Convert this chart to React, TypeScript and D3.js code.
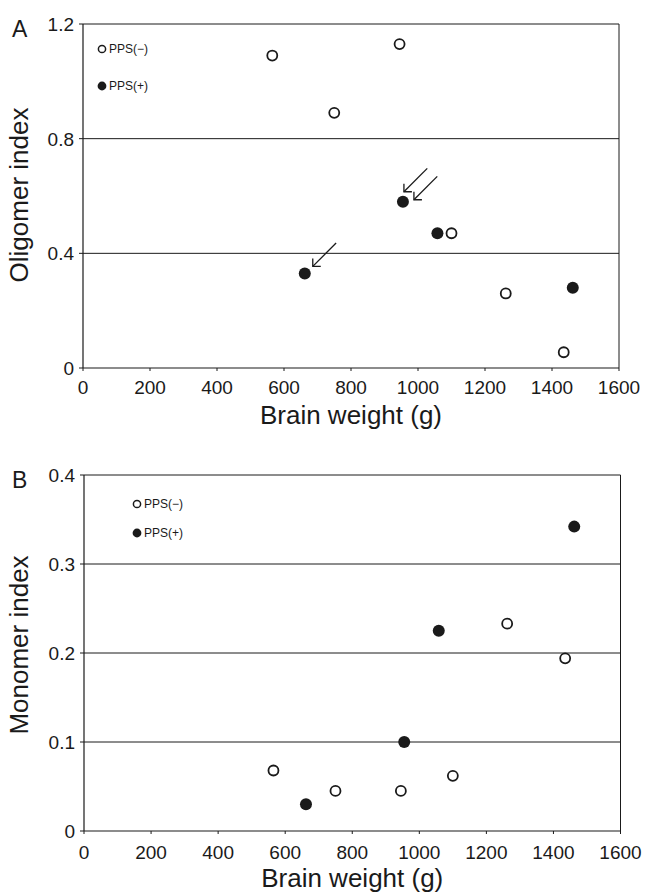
import React from "react";
import * as d3 from "d3";

// ---- data ----
const weightTicks = [0, 200, 400, 600, 800, 1000, 1200, 1400, 1600];
const oligomerTicks = [0, 0.4, 0.8, 1.2];
const monomerTicks = [0, 0.1, 0.2, 0.3, 0.4];

const weightsNeg = [565, 750, 945, 1100, 1262, 1435];
const oligomerNeg = [1.09, 0.89, 1.13, 0.47, 0.26, 0.055];
const monomerNeg = [0.068, 0.045, 0.045, 0.062, 0.233, 0.194];

const weightsPos = [662, 955, 1058, 1462];
const oligomerPos = [0.33, 0.58, 0.47, 0.28];
const monomerPos = [0.03, 0.1, 0.225, 0.342];

const legendLabels = ["PPS(\u2212)", "PPS(+)"];
// arrows in panel A point at these PPS(+) cases (index into weightsPos)
const arrowTargets = [1, 1, 0];

const FONT = "'Liberation Sans', Arial, sans-serif";
const INK = "#1a1a1a";

type PanelProps = {
  letter: string;
  yTitle: string;
  yTicks: number[];
  yMax: number;
  negY: number[];
  posY: number[];
  x0: number;
  x1: number;
  yTop: number;
  yBot: number;
  legendX: number;
  legendY: number[];
  arrows: boolean;
  tickOff: number;
  yTitleY: number;
  yFmt: (v: number) => string;
};

function Panel(p: PanelProps) {
  const x = d3.scaleLinear().domain([0, 1600]).range([p.x0, p.x1]);
  const y = d3.scaleLinear().domain([0, p.yMax]).range([p.yBot, p.yTop]);
  const arrowOffsets = [
    [1, -10],
    [11, -2],
    [8, -7],
  ];
  return (
    <g>
      {/* gridlines */}
      {p.yTicks.filter((t) => t > 0).map((t) => (
        <line key={"g" + t} x1={p.x0} x2={p.x1} y1={y(t)} y2={y(t)} stroke={INK} strokeWidth={1} />
      ))}
      {/* right border */}
      <line x1={p.x1} x2={p.x1} y1={p.yTop} y2={p.yBot} stroke={INK} strokeWidth={1} />
      {/* axes */}
      <line x1={p.x0} x2={p.x0} y1={p.yTop} y2={p.yBot} stroke={INK} strokeWidth={1.2} />
      <line x1={p.x0} x2={p.x1} y1={p.yBot} y2={p.yBot} stroke={INK} strokeWidth={1.2} />
      {/* y ticks */}
      {p.yTicks.map((t) => (
        <g key={"yt" + t}>
          <line x1={p.x0 - 4} x2={p.x0} y1={y(t)} y2={y(t)} stroke={INK} strokeWidth={1} />
          <text x={p.x0 - 9} y={y(t)} dy="0.36em" textAnchor="end" fontSize={19} fontFamily={FONT} fill={INK}>
            {p.yFmt(t)}
          </text>
        </g>
      ))}
      {/* x ticks */}
      {weightTicks.map((t) => (
        <g key={"xt" + t}>
          <line x1={x(t)} x2={x(t)} y1={p.yBot} y2={p.yBot + 3} stroke={INK} strokeWidth={1} />
          <text x={x(t)} y={p.yBot + p.tickOff} textAnchor="middle" fontSize={19} fontFamily={FONT} fill={INK}>
            {t}
          </text>
        </g>
      ))}
      {/* titles */}
      <text x={(p.x0 + p.x1) / 2} y={p.yBot + 56} textAnchor="middle" fontSize={26} fontFamily={FONT} fill={INK}>
        Brain weight (g)
      </text>
      <text
        transform={`translate(28,${p.yTitleY}) rotate(-90)`}
        textAnchor="middle"
        fontSize={26}
        fontFamily={FONT}
        fill={INK}
      >
        {p.yTitle}
      </text>
      <text x={12} y={p.yTop + 13} fontSize={23} fontFamily={FONT} fill={INK}>
        {p.letter}
      </text>
      {/* legend */}
      <circle cx={p.legendX} cy={p.legendY[0]} r={3.6} fill="#fff" stroke={INK} strokeWidth={1.5} />
      <text x={p.legendX + 7} y={p.legendY[0]} dy="0.36em" fontSize={12} fontFamily={FONT} fill={INK}>
        {legendLabels[0]}
      </text>
      <circle cx={p.legendX} cy={p.legendY[1]} r={4.4} fill={INK} />
      <text x={p.legendX + 7} y={p.legendY[1]} dy="0.36em" fontSize={12} fontFamily={FONT} fill={INK}>
        {legendLabels[1]}
      </text>
      {/* points */}
      {weightsNeg.map((w, i) => (
        <circle key={"n" + i} cx={x(w)} cy={y(p.negY[i])} r={5} fill="#fff" stroke={INK} strokeWidth={1.8} />
      ))}
      {weightsPos.map((w, i) => (
        <circle key={"p" + i} cx={x(w)} cy={y(p.posY[i])} r={6} fill={INK} />
      ))}
      {/* arrows */}
      {p.arrows &&
        arrowTargets.map((idx, k) => {
          const tx = x(weightsPos[idx]) + arrowOffsets[k][0];
          const ty = y(p.posY[idx]) + arrowOffsets[k][1];
          const L = 33;
          const sx = tx + L * Math.SQRT1_2;
          const sy = ty - L * Math.SQRT1_2;
          const h = 8;
          return (
            <g key={"a" + k} stroke={INK} strokeWidth={1.3} fill="none">
              <line x1={sx} y1={sy} x2={tx} y2={ty} />
              <path d={`M${tx + h},${ty} L${tx},${ty} L${tx},${ty - h}`} />
            </g>
          );
        })}
    </g>
  );
}

export default function App() {
  return (
    <svg
      width={647}
      height={894}
      style={{ position: "absolute", left: 0, top: 0, background: "#fff" }}
    >
      <rect width={647} height={894} fill="#fff" />
      <Panel
        letter="A"
        yTitle="Oligomer index"
        yTicks={oligomerTicks}
        yMax={1.2}
        negY={oligomerNeg}
        posY={oligomerPos}
        x0={83}
        x1={619}
        yTop={24}
        yBot={368}
        legendX={102}
        legendY={[49, 86]}
        arrows={true}
        tickOff={26}
        yTitleY={195}
        yFmt={(v) => (v === 0 ? "0" : d3.format(".1f")(v))}
      />
      <Panel
        letter="B"
        yTitle="Monomer index"
        yTicks={monomerTicks}
        yMax={0.4}
        negY={monomerNeg}
        posY={monomerPos}
        x0={84}
        x1={620.5}
        yTop={475}
        yBot={831}
        legendX={137}
        legendY={[504, 533]}
        arrows={false}
        tickOff={27.5}
        yTitleY={645}
        yFmt={(v) => (v === 0 ? "0" : d3.format(".1f")(v))}
      />
    </svg>
  );
}
